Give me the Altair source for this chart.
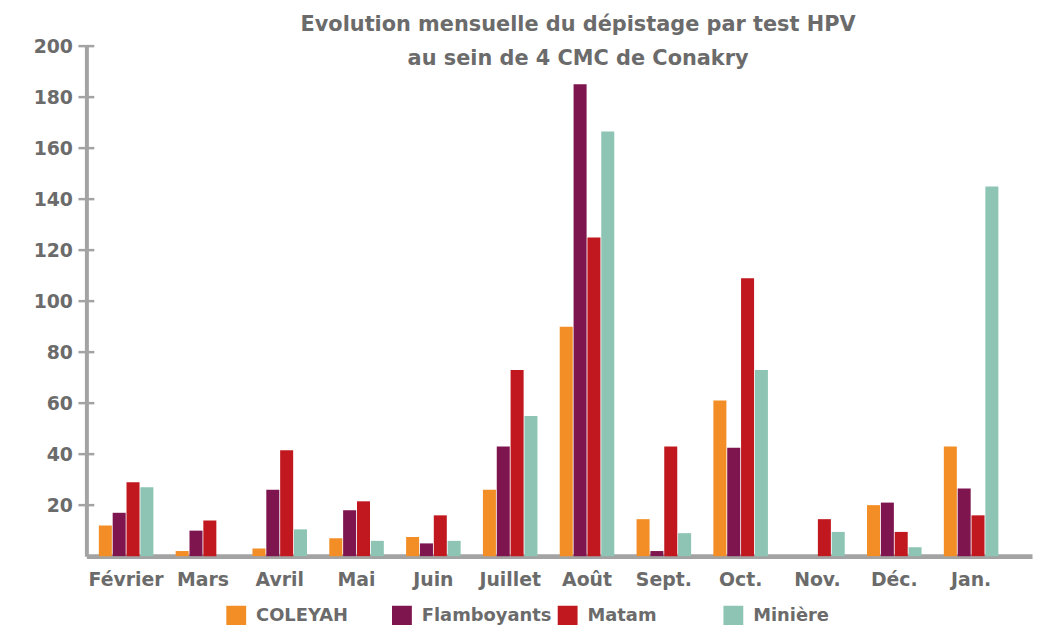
import altair as alt
import pandas as pd

months = ["Février", "Mars", "Avril", "Mai", "Juin", "Juillet", "Août",
          "Sept.", "Oct.", "Nov.", "Déc.", "Jan."]
series = ["COLEYAH", "Flamboyants", "Matam", "Minière"]
colors = ["#F28E25", "#7F154E", "#C1181F", "#8EC4B3"]
coleyah = [12, 2, 3, 7, 7.5, 26, 90, 14.5, 61, 0, 20, 43]
flamboyants = [17, 10, 26, 18, 5, 43, 185, 2, 42.5, 0, 21, 26.5]
matam = [29, 14, 41.5, 21.5, 16, 73, 125, 43, 109, 14.5, 9.5, 16]
miniere = [27, 0, 10.5, 6, 6, 55, 166.5, 9, 73, 9.5, 3.5, 145]
y_ticks = [20, 40, 60, 80, 100, 120, 140, 160, 180, 200]

rows = []
for name, vals in zip(series, [coleyah, flamboyants, matam, miniere]):
    for m, v in zip(months, vals):
        rows.append({"mois": m, "centre": name, "valeur": v})
df = pd.DataFrame(rows)
ticks_df = pd.DataFrame({"t": y_ticks})

FONT = "DejaVu Sans"
GRAY = "#6b6b6b"
AX = "#a3a3a3"

bars = alt.Chart(df).mark_bar().encode(
    x=alt.X("mois:N", sort=months,
            scale=alt.Scale(paddingInner=0.29, paddingOuter=0.3, align=0.27),
            axis=alt.Axis(title=None, labelAngle=0, ticks=False,
                          domainColor=AX, domainWidth=5,
                          labelFont=FONT, labelFontSize=19, labelFontWeight="bold",
                          labelColor=GRAY, labelPadding=15)),
    xOffset=alt.XOffset("centre:N", sort=series, scale=alt.Scale(paddingInner=0.06)),
    y=alt.Y("valeur:Q", scale=alt.Scale(domain=[0, 200], nice=False),
            axis=alt.Axis(title=None, values=y_ticks, grid=False, ticks=False,
                          domainColor=AX, domainWidth=4,
                          labelFont=FONT, labelFontSize=19, labelFontWeight="bold",
                          labelColor=GRAY, labelPadding=14)),
    color=alt.Color("centre:N", sort=series,
                    scale=alt.Scale(domain=series, range=colors),
                    legend=alt.Legend(title=None, orient="none", direction="horizontal",
                                      legendX=141, legendY=564, columns=4,
                                      gridAlign="all", columnPadding=6,
                                      symbolType="square", symbolSize=400,
                                      symbolStrokeWidth=0, symbolOpacity=1,
                                      labelFont=FONT, labelFontSize=18,
                                      labelFontWeight="bold", labelColor=GRAY,
                                      labelOffset=10)),
)

tick_marks = alt.Chart(ticks_df).mark_rule(color=AX, strokeWidth=2.5).encode(
    y="t:Q", x=alt.value(-8), x2=alt.value(8)
)

chart = alt.layer(bars, tick_marks).properties(
    width=953, height=514,
    title=alt.TitleParams(
        ["Evolution mensuelle du dépistage  par test HPV", "au sein de 4 CMC de Conakry"],
        font=FONT, fontSize=21, fontWeight="bold", color=GRAY,
        anchor="middle", dx=19, dy=36, lineHeight=34),
    autosize=alt.AutoSizeParams(type="none"),
    padding={"left": 79, "top": 36, "right": 2, "bottom": 70},
).configure_view(stroke=None)

chart.save("out.html", embed_options={"renderer": "svg", "actions": False})
